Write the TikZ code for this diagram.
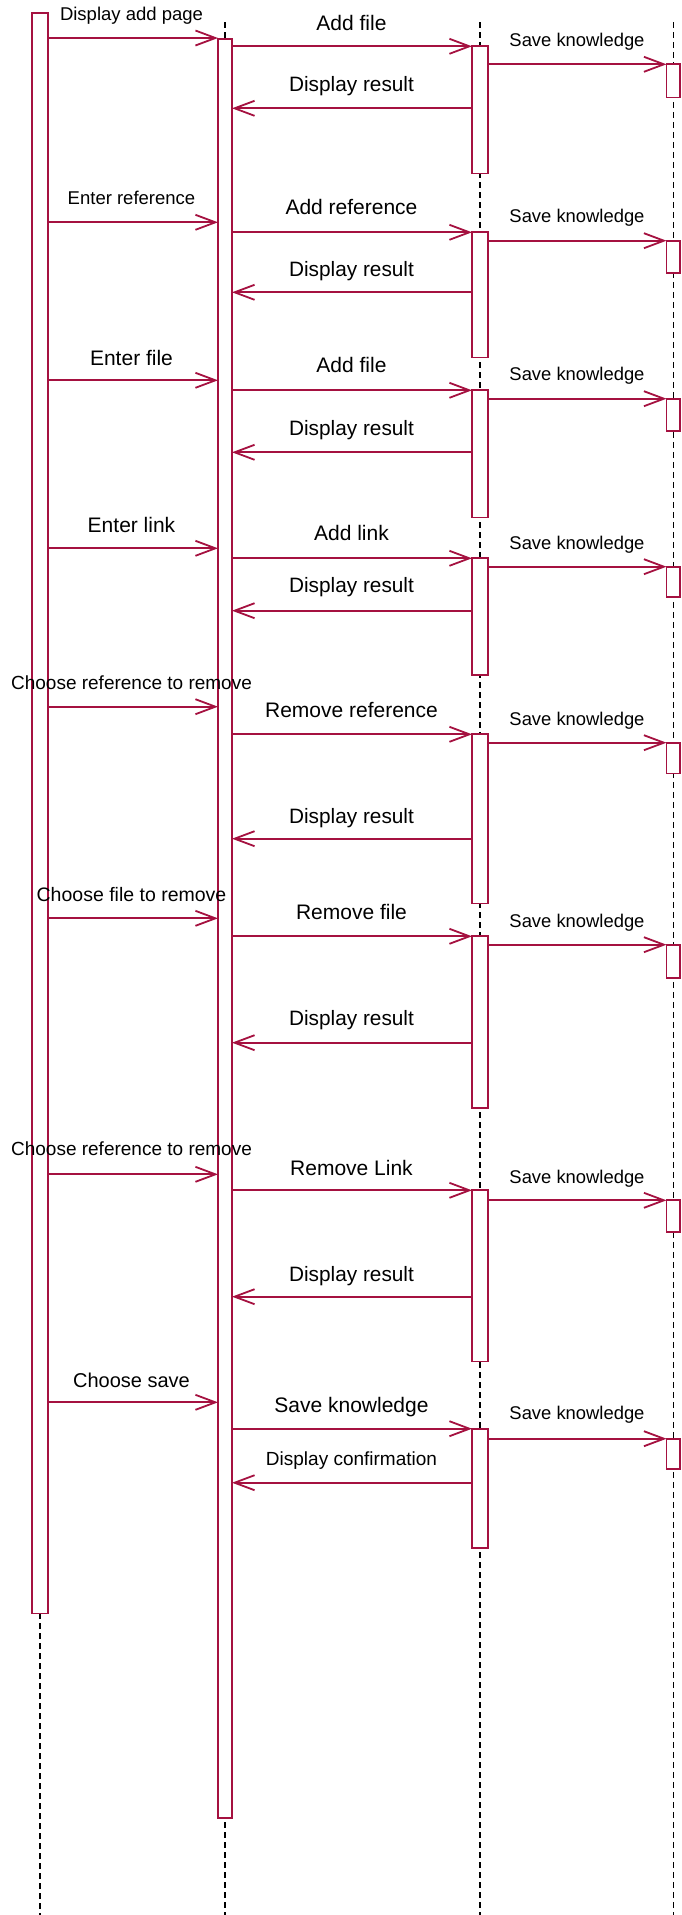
\documentclass[tikz,border=0pt]{standalone}
\usepackage{fontspec}
\setmainfont{Liberation Sans}
\usetikzlibrary{arrows.meta,fit}
\definecolor{umlred}{RGB}{165,17,64}
% #1 label name, #2 from anchor, #3 to anchor, #4 arrow y, #5 label x, #6 label baseline y, #7 font size, #8 text
\newcommand\Msg[8]{%
  \draw[msg] (#2 |- 0,#4) -- (#3 |- 0,#4);
  \node[lbl,anchor=base,font=\fontsize{#7}{#7}\selectfont] (#1) at (#5,#6) {#8};}
\begin{document}
\begin{tikzpicture}[x=1pt,y=-1pt,
  actbox/.style={draw=umlred, line width=1.8pt, fill=white, inner sep=0pt, outer sep=0pt},
  msg/.style={draw=umlred, line width=1.8pt, -{Straight Barb[length=20pt,width=15pt]}},
  lifeline/.style={draw=black, line width=1.6pt, dash pattern=on 6pt off 4pt},
  lbl/.style={inner sep=0pt, text=black}]
\useasboundingbox (0,0) rectangle (681,1915);

% lifelines
\coordinate (L1t) at (40,13);     \coordinate (L1b) at (40,1915);
\coordinate (L2t) at (225,22);    \coordinate (L2b) at (225,1915);
\coordinate (L3t) at (480,22);    \coordinate (L3b) at (480,1915);
\coordinate (L4t) at (673.3,22);  \coordinate (L4b) at (673.3,1915);
\draw[lifeline] (L1t) -- (L1b);
\draw[lifeline] (L2t) -- (L2b);
\draw[lifeline] (L3t) -- (L3b);
\draw[lifeline] (L4t) -- (L4b);

% activation boxes
\node[actbox, fit={(32,13) (48,1613.5)}] (A) {};
\node[actbox, fit={(218,39) (232,1818)}] (B) {};
\node[actbox, fit={(472,46.3) (488,173.5)}] (C1) {};
\node[actbox, fit={(472,232.3) (488,357.5)}] (C2) {};
\node[actbox, fit={(472,390.3) (488,517.5)}] (C3) {};
\node[actbox, fit={(472,558.3) (488,675.3)}] (C4) {};
\node[actbox, fit={(472,734.3) (488,903.5)}] (C5) {};
\node[actbox, fit={(472,936.3) (488,1108.3)}] (C6) {};
\node[actbox, fit={(472,1190.3) (488,1361.5)}] (C7) {};
\node[actbox, fit={(472,1428.7) (488,1548)}] (C8) {};
\node[actbox, fit={(666.5,64.3) (680,97.5)}] (D1) {};
\node[actbox, fit={(666.5,240.7) (680,273.3)}] (D2) {};
\node[actbox, fit={(666.5,398.7) (680,431)}] (D3) {};
\node[actbox, fit={(666.5,566.7) (680,597.3)}] (D4) {};
\node[actbox, fit={(666.5,742.7) (680,773.5)}] (D5) {};
\node[actbox, fit={(666.5,944.7) (680,978.3)}] (D6) {};
\node[actbox, fit={(666.5,1200.3) (680,1232)}] (D7) {};
\node[actbox, fit={(666.5,1438.7) (680,1469.3)}] (D8) {};

% user -> page
\Msg{u1}{A.east}{B.west}{38}{131.5}{20.7}{18.5}{Display add page}
\Msg{u2}{A.east}{B.west}{222.3}{131.5}{204}{18.5}{Enter reference}
\Msg{u3}{A.east}{B.west}{380.3}{131.5}{365}{21}{Enter file}
\Msg{u4}{A.east}{B.west}{548.3}{131.5}{532.7}{21}{Enter link}
\Msg{u5}{A.east}{B.west}{706.7}{131.5}{689.3}{19}{Choose reference to remove}
\Msg{u6}{A.east}{B.west}{918.3}{131.5}{901.7}{19.5}{Choose file to remove}
\Msg{u7}{A.east}{B.west}{1174.3}{131.5}{1155}{19}{Choose reference to remove}
\Msg{u8}{A.east}{B.west}{1402.3}{131.5}{1387}{20}{Choose save}

% page -> controller
\Msg{p1}{B.east}{C1.west}{46.3}{351.5}{30}{21}{Add file}
\Msg{p2}{B.east}{C2.west}{232.3}{351.5}{214}{21}{Add reference}
\Msg{p3}{B.east}{C3.west}{390.3}{351.5}{372.3}{21}{Add file}
\Msg{p4}{B.east}{C4.west}{558.3}{351.5}{540.7}{21}{Add link}
\Msg{p5}{B.east}{C5.west}{734.3}{351.5}{717.3}{21}{Remove reference}
\Msg{p6}{B.east}{C6.west}{936.3}{351.5}{919}{21}{Remove file}
\Msg{p7}{B.east}{C7.west}{1190.3}{351.5}{1175}{21}{Remove Link}
\Msg{p8}{B.east}{C8.west}{1428.7}{351.5}{1412.7}{21}{Save knowledge}

% controller -> page (results)
\Msg{r1}{C1.west}{B.east}{108.3}{351.5}{91}{20.8}{Display result}
\Msg{r2}{C2.west}{B.east}{292.3}{351.5}{276}{20.8}{Display result}
\Msg{r3}{C3.west}{B.east}{452.3}{351.5}{435}{20.8}{Display result}
\Msg{r4}{C4.west}{B.east}{610.7}{351.5}{592.7}{20.8}{Display result}
\Msg{r5}{C5.west}{B.east}{838.7}{351.5}{823}{20.8}{Display result}
\Msg{r6}{C6.west}{B.east}{1042.7}{351.5}{1025}{20.8}{Display result}
\Msg{r7}{C7.west}{B.east}{1296.7}{351.5}{1281.3}{20.8}{Display result}
\Msg{r8}{C8.west}{B.east}{1482.7}{351.5}{1465}{19}{Display confirmation}

% controller -> store
\Msg{s1}{C1.east}{D1.west}{64.3}{577}{46}{18.4}{Save knowledge}
\Msg{s2}{C2.east}{D2.west}{240.7}{577}{222.3}{18.4}{Save knowledge}
\Msg{s3}{C3.east}{D3.west}{398.7}{577}{380.3}{18.4}{Save knowledge}
\Msg{s4}{C4.east}{D4.west}{566.7}{577}{549}{18.4}{Save knowledge}
\Msg{s5}{C5.east}{D5.west}{742.7}{577}{725.3}{18.4}{Save knowledge}
\Msg{s6}{C6.east}{D6.west}{944.7}{577}{927.3}{18.4}{Save knowledge}
\Msg{s7}{C7.east}{D7.west}{1200.3}{577}{1183}{18.4}{Save knowledge}
\Msg{s8}{C8.east}{D8.west}{1438.7}{577}{1419.3}{18.4}{Save knowledge}
\end{tikzpicture}
\end{document}
